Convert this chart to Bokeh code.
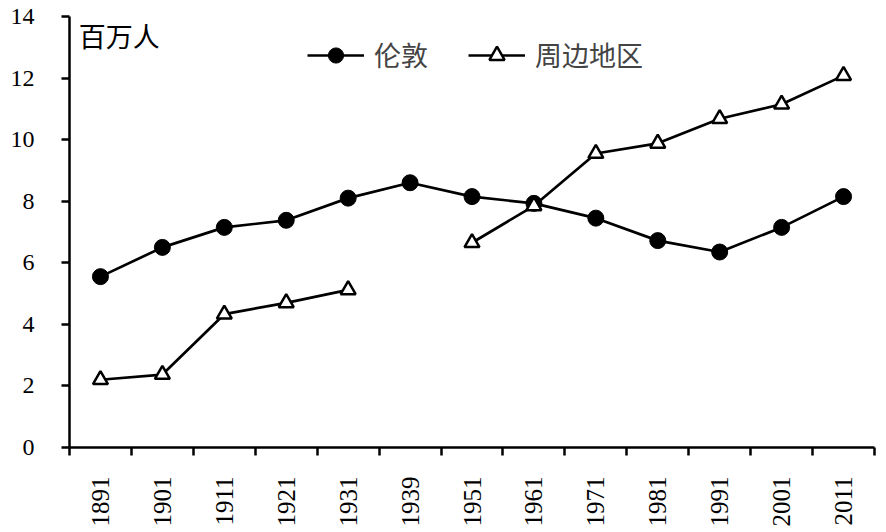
import numpy as np
from bokeh.plotting import figure
from bokeh.models import FixedTicker, Range1d, Legend, LegendItem, Label
from bokeh.embed import file_html
from bokeh.resources import INLINE

years = ["1891", "1901", "1911", "1921", "1931", "1939", "1951",
         "1961", "1971", "1981", "1991", "2001", "2011"]
london = [5.55, 6.5, 7.15, 7.38, 8.1, 8.6, 8.15, 7.93, 7.45, 6.72, 6.35, 7.15, 8.15]
outer = [2.2, 2.37, 4.33, 4.7, 5.12, np.nan, 6.65, 7.85, 9.55, 9.88, 10.68, 11.15, 12.08]
y_ticks = [0, 2, 4, 6, 8, 10, 12, 14]
unit_label = "百万人"
series_names = ["伦敦", "周边地区"]

n = len(years)
xs = np.arange(n) + 0.5

p = figure(width=886, height=532, output_backend="svg", toolbar_location=None,
           x_range=Range1d(0, n), y_range=Range1d(0, 14),
           min_border_left=69, min_border_right=12, min_border_top=16, min_border_bottom=85)
p.grid.visible = False
p.outline_line_color = None
p.background_fill_color = "white"
p.border_fill_color = "white"

serif = "Liberation Serif"
cjk = "Noto Sans CJK SC"

# x axis
p.xaxis.ticker = FixedTicker(ticks=list(xs), minor_ticks=list(range(n + 1)))
p.xaxis.major_label_overrides = {float(x): y for x, y in zip(xs, years)}
p.xaxis.major_tick_out = 0
p.xaxis.major_tick_in = 0
p.xaxis.minor_tick_out = 8
p.xaxis.minor_tick_in = 0
p.xaxis.minor_tick_line_width = 2.5
p.xaxis.axis_line_width = 2.5
p.xaxis.major_label_orientation = np.pi / 2
p.xaxis.major_label_standoff = 21
p.xaxis.major_label_text_font = serif
p.xaxis.major_label_text_font_size = "25px"
p.xaxis.major_label_text_color = "black"

# y axis
p.yaxis.ticker = FixedTicker(ticks=y_ticks, minor_ticks=[])
p.yaxis.major_tick_out = 8
p.yaxis.major_tick_in = 0
p.yaxis.major_tick_line_width = 2.5
p.yaxis.axis_line_width = 2.5
p.yaxis.major_label_standoff = 27
p.yaxis.major_label_text_font = serif
p.yaxis.major_label_text_font_size = "24px"
p.yaxis.major_label_text_color = "black"

l1 = p.line(xs, london, line_color="black", line_width=2.7)
s1 = p.scatter(xs, london, marker="circle", size=16, fill_color="black", line_color="black")
l2 = p.line(xs, outer, line_color="black", line_width=2.7)
s2 = p.scatter(xs, outer, marker="triangle", size=15, fill_color="white",
               line_color="black", line_width=2.5)

legend = Legend(items=[LegendItem(label=series_names[0], renderers=[l1, s1]),
                       LegendItem(label=series_names[1], renderers=[l2, s2])],
                orientation="horizontal", location=(238, 373),
                label_text_font=cjk, label_text_font_size="27px",
                glyph_width=57, glyph_height=38, label_standoff=10, spacing=40,
                padding=0, margin=0, border_line_color=None,
                background_fill_alpha=0)
p.add_layout(legend)

p.add_layout(Label(x=0.15, y=14, text=unit_label, text_font=cjk, text_font_size="27px",
                   text_baseline="top", y_offset=1, text_color="black"))

open("out.html", "w").write(file_html(p, INLINE))
